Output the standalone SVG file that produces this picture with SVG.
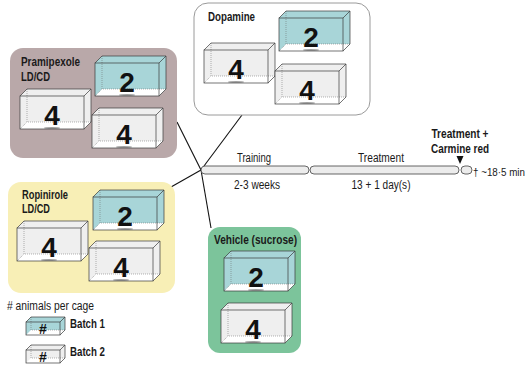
<svg xmlns="http://www.w3.org/2000/svg" xmlns:xlink="http://www.w3.org/1999/xlink" width="529" height="366" viewBox="0 0 529 366">
  <style>
    .lbl { font-family: "Liberation Sans", Arial, sans-serif; font-weight: bold; font-size: 12.5px; fill: #1a1a1a; }
    .tl { font-family: "Liberation Sans", Arial, sans-serif; font-size: 12.5px; fill: #1a1a1a; }
    .tl-s { font-family: "Liberation Sans", Arial, sans-serif; font-size: 10px; fill: #1a1a1a; }
    .num { font-family: "Liberation Sans", Arial, sans-serif; font-weight: bold; font-size: 28px; fill: #111; text-anchor: middle; }
    .hash { font-family: "Liberation Sans", Arial, sans-serif; font-weight: bold; font-size: 14px; fill: #111; text-anchor: middle; }
    .edge { stroke: #3a3a3a; stroke-width: 0.7; fill: none; }
    .hid { stroke: #666; stroke-width: 0.5; stroke-dasharray: 1 1; fill: none; }
    .blue { fill: #a8d5d8; }
    .grey { fill: #efefef; }
    .conn line { stroke: #111; stroke-width: 1.1; }
    .bar { fill: #ececec; stroke: #555; stroke-width: 0.9; }
  </style>
  <defs>
    <!-- transparent cage: front face 64x33 with 7px depth; body fill comes from the <use> -->
    <g id="cage">
      <polygon points="0,7 7,0 71,0 71,33 64,40 0,40"/>
      <polygon points="0,40 64,40 71,33 7,33" fill="#ffffff"/>
      <polyline class="hid" points="7,0 7,33 71,33"/>
      <line class="hid" x1="0" y1="40" x2="7" y2="33"/>
      <rect class="edge" x="0" y="7" width="64" height="33"/>
      <polyline class="edge" points="0,7 7,0 71,0 64,7"/>
      <polyline class="edge" points="71,0 71,33 64,40"/>
    </g>
    <g id="cage-s">
      <polygon points="0,5 5,0 39,0 39,13 34,18 0,18"/>
      <polygon points="0,18 34,18 39,13 5,13" fill="#ffffff"/>
      <polyline class="hid" points="5,0 5,13 39,13"/>
      <rect class="edge" x="0" y="5" width="34" height="13"/>
      <polyline class="edge" points="0,5 5,0 39,0 34,5"/>
      <polyline class="edge" points="39,0 39,13 34,18"/>
    </g>
    <ellipse id="shadow" cx="0" cy="0" rx="8" ry="1.1" fill="#444" opacity="0.5"/>
  </defs>

  <!-- connectors from the start of the timeline to each group -->
  <g id="connectors" class="conn">
    <line x1="177" y1="122" x2="201" y2="170"/>
    <line x1="242" y1="115" x2="201" y2="170"/>
    <line x1="171" y1="187" x2="201" y2="170"/>
    <line x1="201" y1="170" x2="211" y2="228"/>
  </g>

  <g id="pramipexole">
    <rect x="10" y="48" width="167" height="110" rx="13" fill="#b9a8a9"/>
    <text class="lbl" x="21" y="66" textLength="59" lengthAdjust="spacingAndGlyphs">Pramipexole</text>
    <text class="lbl" x="21" y="80.5" textLength="29" lengthAdjust="spacingAndGlyphs">LD/CD</text>
    <use xlink:href="#cage" class="blue" x="95" y="56"/>
    <use xlink:href="#shadow" x="127" y="95"/>
    <text class="num" x="127" y="92">2</text>
    <use xlink:href="#cage" class="grey" x="20" y="89"/>
    <use xlink:href="#shadow" x="52" y="128"/>
    <text class="num" x="52" y="125">4</text>
    <use xlink:href="#cage" class="grey" x="92" y="108"/>
    <use xlink:href="#shadow" x="124" y="147"/>
    <text class="num" x="124" y="144">4</text>
  </g>

  <g id="dopamine">
    <rect x="194" y="3" width="176" height="112" rx="14" fill="#ffffff" stroke="#9a9a9a" stroke-width="1"/>
    <text class="lbl" x="208" y="21" textLength="47" lengthAdjust="spacingAndGlyphs">Dopamine</text>
    <use xlink:href="#cage" class="blue" x="279" y="11"/>
    <use xlink:href="#shadow" x="311" y="50"/>
    <text class="num" x="311" y="47">2</text>
    <use xlink:href="#cage" class="grey" x="204" y="43"/>
    <use xlink:href="#shadow" x="236" y="82"/>
    <text class="num" x="236" y="79">4</text>
    <use xlink:href="#cage" class="grey" x="275" y="64"/>
    <use xlink:href="#shadow" x="307" y="103"/>
    <text class="num" x="307" y="100">4</text>
  </g>

  <g id="ropinirole">
    <rect x="8" y="182" width="167" height="111" rx="13" fill="#f8efb6"/>
    <text class="lbl" x="22" y="199" textLength="46" lengthAdjust="spacingAndGlyphs">Ropinirole</text>
    <text class="lbl" x="22" y="213" textLength="28" lengthAdjust="spacingAndGlyphs">LD/CD</text>
    <use xlink:href="#cage" class="blue" x="93" y="190"/>
    <use xlink:href="#shadow" x="125" y="229"/>
    <text class="num" x="125" y="226">2</text>
    <use xlink:href="#cage" class="grey" x="17" y="221"/>
    <use xlink:href="#shadow" x="49" y="260"/>
    <text class="num" x="49" y="257">4</text>
    <use xlink:href="#cage" class="grey" x="89" y="241"/>
    <use xlink:href="#shadow" x="121" y="280"/>
    <text class="num" x="121" y="277">4</text>
  </g>

  <g id="vehicle">
    <rect x="208" y="227" width="93" height="126" rx="12" fill="#7cc49b"/>
    <text class="lbl" x="214" y="244" textLength="83" lengthAdjust="spacingAndGlyphs">Vehicle (sucrose)</text>
    <use xlink:href="#cage" class="blue" x="224" y="251"/>
    <use xlink:href="#shadow" x="256" y="290"/>
    <text class="num" x="256" y="287">2</text>
    <use xlink:href="#cage" class="grey" x="221" y="303"/>
    <use xlink:href="#shadow" x="253" y="342"/>
    <text class="num" x="253" y="339">4</text>
  </g>

  <g id="timeline">
    <rect class="bar" x="201" y="166" width="108" height="8" rx="4"/>
    <rect class="bar" x="310" y="166" width="149" height="8" rx="4"/>
    <rect class="bar" x="461" y="166" width="11" height="8" rx="4"/>
    <text class="tl" x="254" y="162" text-anchor="middle" textLength="34" lengthAdjust="spacingAndGlyphs">Training</text>
    <text class="tl" x="381" y="162" text-anchor="middle" textLength="46" lengthAdjust="spacingAndGlyphs">Treatment</text>
    <text class="tl" x="257" y="188.5" text-anchor="middle" textLength="46" lengthAdjust="spacingAndGlyphs">2-3 weeks</text>
    <text class="tl" x="381" y="188.5" text-anchor="middle" textLength="59" lengthAdjust="spacingAndGlyphs">13 + 1 day(s)</text>
    <text class="lbl" x="460" y="138" text-anchor="middle" textLength="57" lengthAdjust="spacingAndGlyphs">Treatment +</text>
    <text class="lbl" x="460" y="153" text-anchor="middle" textLength="58" lengthAdjust="spacingAndGlyphs">Carmine red</text>
    <polygon points="456.5,156 463.5,156 460,164" fill="#111"/>
    <text class="tl-s" x="473" y="175.5" textLength="52" lengthAdjust="spacingAndGlyphs">† ~18·5 min</text>
  </g>

  <g id="legend">
    <text class="tl" x="7" y="310" textLength="87" lengthAdjust="spacingAndGlyphs">#&#160;animals per cage</text>
    <use xlink:href="#cage-s" class="blue" x="26" y="317"/>
    <text class="hash" x="43" y="334">#</text>
    <text class="lbl" x="70" y="328" textLength="35" lengthAdjust="spacingAndGlyphs">Batch 1</text>
    <use xlink:href="#cage-s" class="grey" x="26" y="345"/>
    <text class="hash" x="43" y="362">#</text>
    <text class="lbl" x="70" y="356" textLength="35" lengthAdjust="spacingAndGlyphs">Batch 2</text>
  </g>
</svg>
